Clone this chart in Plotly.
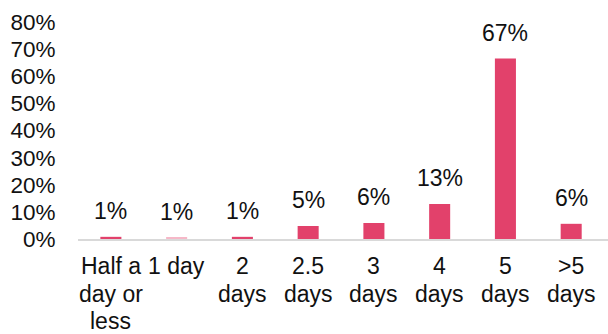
import plotly.graph_objects as go

categories = ["Half a<br>day or<br>less", "1 day", "2<br>days", "2.5<br>days", "3<br>days", "4<br>days", "5<br>days", ">5<br>days"]
values = [0.008, 0.004, 0.008, 0.048, 0.059, 0.129, 0.665, 0.056]
labels = ["1%", "1%", "1%", "5%", "6%", "13%", "67%", "6%"]
colors = ["#E2416B", "#F6B8C8", "#E2416B", "#E2416B", "#E2416B", "#E2416B", "#E2416B", "#E2416B"]

font_family = "Liberation Sans, Arial, sans-serif"
FS = 23
LINE_H = 27.6

fig = go.Figure()
fig.add_trace(go.Bar(
    x=list(range(len(categories))), y=values,
    marker=dict(color=colors, line=dict(width=0)),
    width=0.32,
    hoverinfo="skip",
))

# data labels
for i, (v, t) in enumerate(zip(values, labels)):
    fig.add_annotation(x=i, y=v, text=t, showarrow=False, yanchor="bottom",
                       yshift=11, font=dict(size=FS, color="#111111", family=font_family))

# category labels, one annotation per line for tighter line spacing
for i, cat in enumerate(categories):
    for k, line in enumerate(cat.split("<br>")):
        fig.add_annotation(x=i, y=0, text=line, showarrow=False, yanchor="top",
                           yshift=-(12 + k * LINE_H),
                           font=dict(size=FS, color="#111111", family=font_family))

fig.update_layout(
    width=608, height=334,
    margin=dict(l=78, r=0, t=22, b=95),
    paper_bgcolor="white", plot_bgcolor="white",
    showlegend=False,
    font=dict(family=font_family, size=FS, color="#111111"),
    xaxis=dict(
        range=[-0.5, 7.56], automargin=False,
        tickmode="array", tickvals=list(range(len(categories))),
        showticklabels=False,
        showline=True, linecolor="#D9D9D9", linewidth=2,
        showgrid=False, zeroline=False, ticks="",
    ),
    yaxis=dict(
        range=[0, 0.8], automargin=False,
        tickvals=[0, 0.1, 0.2, 0.3, 0.4, 0.5, 0.6, 0.7, 0.8],
        tickformat=".0%",
        tickfont=dict(size=22.5),
        showgrid=False, zeroline=False, showline=False,
        ticks="outside", ticklen=17, tickcolor="rgba(0,0,0,0)",
    ),
)

fig.write_html("out.html")
